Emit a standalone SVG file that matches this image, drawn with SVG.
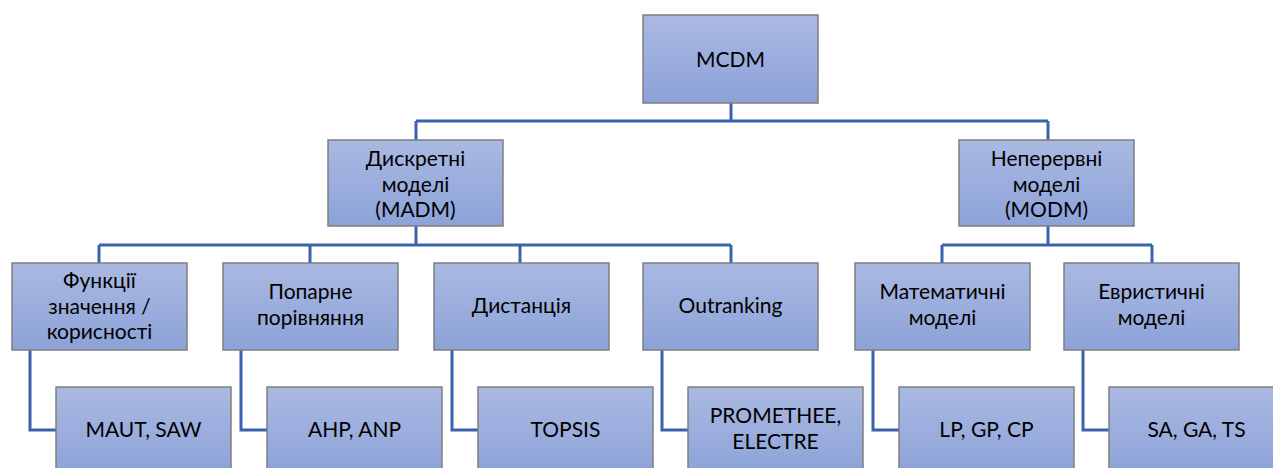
<svg xmlns="http://www.w3.org/2000/svg" width="1273" height="468" viewBox="0 0 1273 468">
  <defs>
    <linearGradient id="boxFill" x1="0" y1="0" x2="0" y2="1">
      <stop offset="0" stop-color="#AAB9E2"/>
      <stop offset="1" stop-color="#8CA2D8"/>
    </linearGradient>
    <style>
      .box { fill: url(#boxFill); stroke: #7F7F7F; stroke-width: 1.5; }
      .lbl { font-family: Lato, "Open Sans", sans-serif; font-size: 21px; fill: #000000; text-anchor: middle; }
      .wire { fill: none; stroke: #3B62AE; stroke-width: 3; }
    </style>
  </defs>
  <rect width="1273" height="468" fill="#FFFFFF"/>

  <!-- connectors -->
  <g id="connectors" class="wire">
    <path d="M731 103 V121 M416 121 H1048 M416 121 V140 M1048 121 V140"/>
    <path d="M416 226 V245 M99 245 H731 M99 245 V263 M310 245 V263 M520 245 V263 M731 245 V263"/>
    <path d="M1048 226 V245 M942 245 H1152 M942 245 V263 M1152 245 V263"/>
    <path d="M30 350 V430 H56"/>
    <path d="M241 350 V430 H267"/>
    <path d="M452 350 V430 H478"/>
    <path d="M662 350 V430 H688"/>
    <path d="M873 350 V430 H899"/>
    <path d="M1083 350 V430 H1109"/>
  </g>

  <!-- root -->
  <g id="mcdm">
    <rect class="box" x="643" y="15" width="175" height="88"/>
    <text class="lbl" x="730.5" y="67">MCDM</text>
  </g>

  <!-- level 1 -->
  <g id="madm">
    <rect class="box" x="328" y="140" width="175" height="86"/>
    <text class="lbl" x="415.5" y="166">Дискретні</text>
    <text class="lbl" x="415.5" y="191.5">моделі</text>
    <text class="lbl" x="415.5" y="217">(MADM)</text>
  </g>
  <g id="modm">
    <rect class="box" x="959" y="140" width="175" height="86"/>
    <text class="lbl" x="1046.5" y="166">Неперервні</text>
    <text class="lbl" x="1046.5" y="191.5">моделі</text>
    <text class="lbl" x="1046.5" y="217">(MODM)</text>
  </g>

  <!-- level 2 -->
  <g id="value-functions">
    <rect class="box" x="12" y="263" width="175" height="87"/>
    <text class="lbl" x="99.5" y="288">Функції</text>
    <text class="lbl" x="99.5" y="313.5">значення /</text>
    <text class="lbl" x="99.5" y="339">корисності</text>
  </g>
  <g id="pairwise">
    <rect class="box" x="223" y="263" width="175" height="87"/>
    <text class="lbl" x="310.5" y="299">Попарне</text>
    <text class="lbl" x="310.5" y="325">порівняння</text>
  </g>
  <g id="distance">
    <rect class="box" x="434" y="263" width="175" height="87"/>
    <text class="lbl" x="521.5" y="313">Дистанція</text>
  </g>
  <g id="outranking">
    <rect class="box" x="643" y="263" width="175" height="87"/>
    <text class="lbl" x="730.5" y="313">Outranking</text>
  </g>
  <g id="math-models">
    <rect class="box" x="855" y="263" width="175" height="87"/>
    <text class="lbl" x="942.5" y="299">Математичні</text>
    <text class="lbl" x="942.5" y="325">моделі</text>
  </g>
  <g id="heuristic-models">
    <rect class="box" x="1064" y="263" width="175" height="87"/>
    <text class="lbl" x="1151.5" y="299">Евристичні</text>
    <text class="lbl" x="1151.5" y="325">моделі</text>
  </g>

  <!-- level 3 -->
  <g id="maut-saw">
    <rect class="box" x="56" y="387" width="175" height="88"/>
    <text class="lbl" x="143.5" y="437">MAUT, SAW</text>
  </g>
  <g id="ahp-anp">
    <rect class="box" x="267" y="387" width="175" height="88"/>
    <text class="lbl" x="354.5" y="437">AHP, ANP</text>
  </g>
  <g id="topsis">
    <rect class="box" x="478" y="387" width="175" height="88"/>
    <text class="lbl" x="565.5" y="437">TOPSIS</text>
  </g>
  <g id="promethee-electre">
    <rect class="box" x="688" y="387" width="175" height="88"/>
    <text class="lbl" x="775.5" y="423">PROMETHEE,</text>
    <text class="lbl" x="775.5" y="449">ELECTRE</text>
  </g>
  <g id="lp-gp-cp">
    <rect class="box" x="899" y="387" width="175" height="88"/>
    <text class="lbl" x="986.5" y="437">LP, GP, CP</text>
  </g>
  <g id="sa-ga-ts">
    <rect class="box" x="1109" y="387" width="175" height="88"/>
    <text class="lbl" x="1196.5" y="437">SA, GA, TS</text>
  </g>
</svg>
